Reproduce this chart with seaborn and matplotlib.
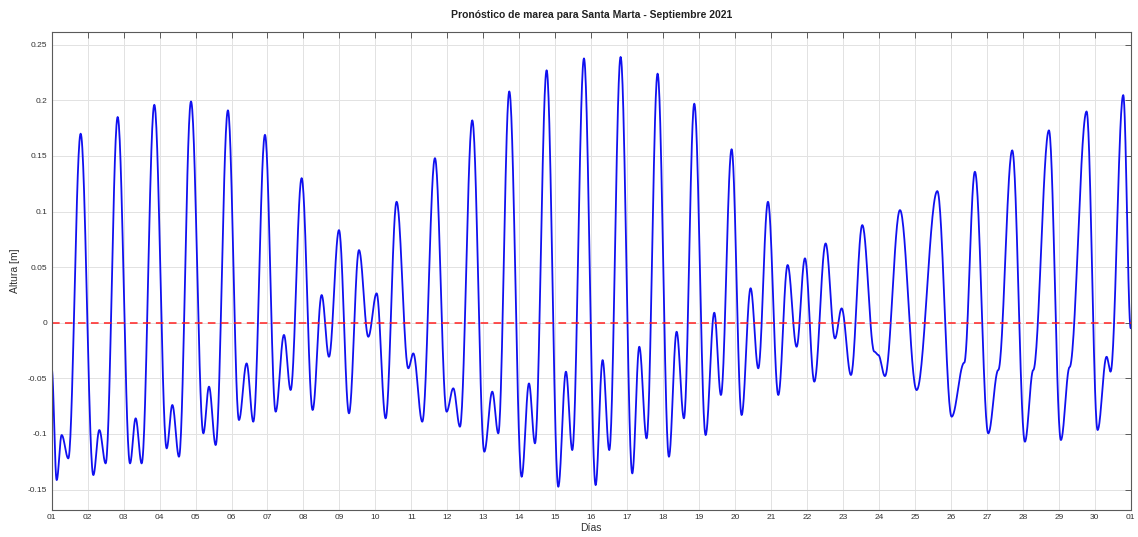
import numpy as np
import pandas as pd
import matplotlib
matplotlib.use("Agg")
import matplotlib.pyplot as plt
import seaborn as sns

# ---- Data (high/low water times in days of Sept 2021, height in m) ----
extremum_day = [
    1.000, 1.139, 1.278, 1.463, 1.806, 2.158, 2.325, 2.501, 2.835, 3.178,
    3.335, 3.502, 3.854, 4.197, 4.355, 4.540, 4.874, 5.217, 5.374, 5.560,
    5.900, 6.207, 6.420, 6.606, 6.930, 7.227, 7.458, 7.644, 7.950, 8.255,
    8.506, 8.710, 8.988, 9.266, 9.544, 9.803, 10.035, 10.285, 10.590, 10.915,
    11.054, 11.304, 11.656, 11.980, 12.166, 12.351, 12.694, 13.028, 13.250, 13.417,
    13.723, 14.066, 14.270, 14.437, 14.761, 15.085, 15.298, 15.474, 15.799, 16.123,
    16.317, 16.503, 16.818, 17.142, 17.337, 17.540, 17.846, 18.161, 18.375, 18.578,
    18.866, 19.181, 19.422, 19.607, 19.904, 20.182, 20.432, 20.645, 20.915, 21.202,
    21.461, 21.711, 21.943, 22.203, 22.518, 22.777, 22.963, 23.222, 23.537, 23.871,
    23.982, 24.167, 24.585, 25.048, 25.623, 26.021, 26.371, 26.668, 27.039, 27.317,
    27.706, 28.058, 28.290, 28.726, 29.059, 29.300, 29.773, 30.079, 30.329, 30.440,
    30.792, 31.000,
]
extremum_height = [
    -0.041, -0.1415, -0.101, -0.122, 0.170, -0.137, -0.0965, -0.1265, 0.185, -0.1265,
    -0.086, -0.1265, 0.196, -0.113, -0.074, -0.1205, 0.199, -0.0995, -0.0575, -0.110,
    0.191, -0.0875, -0.0366, -0.089, 0.169, -0.080, -0.011, -0.0605, 0.130, -0.0785,
    0.0249, -0.0306, 0.0833, -0.0815, 0.0653, -0.0126, 0.0264, -0.086, 0.1088, -0.041,
    -0.0276, -0.089, 0.148, -0.080, -0.059, -0.0935, 0.182, -0.116, -0.062, -0.0995,
    0.208, -0.1385, -0.0546, -0.1085, 0.227, -0.1475, -0.044, -0.1145, 0.2377, -0.146,
    -0.0336, -0.1145, 0.239, -0.1355, -0.0216, -0.104, 0.224, -0.1205, -0.0081, -0.086,
    0.197, -0.101, 0.009, -0.065, 0.156, -0.083, 0.031, -0.041, 0.1088, -0.065,
    0.0519, -0.0216, 0.0579, -0.053, 0.0713, -0.0141, 0.0129, -0.047, 0.0878, -0.026,
    -0.029, -0.048, 0.1013, -0.0606, 0.1184, -0.0845, -0.036, 0.1358, -0.0995, -0.0426,
    0.155, -0.107, -0.0426, 0.173, -0.1055, -0.040, 0.190, -0.0965, -0.0306, -0.044,
    0.2047, -0.005,
]
day_ticks = list(range(1, 32))
day_tick_labels = [f"{d:02d}" for d in range(1, 31)] + ["01"]
height_ticks = [-0.15, -0.1, -0.05, 0, 0.05, 0.1, 0.15, 0.2, 0.25]
height_tick_labels = ["-0.15", "-0.1", "-0.05", "0", "0.05", "0.1", "0.15", "0.2", "0.25"]
mean_level = 0.0
title_text = "Pronóstico de marea para Santa Marta - Septiembre 2021"
xlabel_text = "Días"
ylabel_text = "Altura [m]"

# ---- Tide curve through the high/low waters (half-cosine between turning points) ----
xs, ys = [], []
for i in range(len(extremum_day) - 1):
    t0, t1 = extremum_day[i], extremum_day[i + 1]
    h0, h1 = extremum_height[i], extremum_height[i + 1]
    s = np.linspace(0, 1, 30, endpoint=False)
    xs.append(t0 + (t1 - t0) * s)
    ys.append(h0 + (h1 - h0) * (1 - np.cos(np.pi * s)) / 2)
xs.append([extremum_day[-1]])
ys.append([extremum_height[-1]])
df = pd.DataFrame({"dia": np.concatenate(xs), "altura": np.concatenate(ys)})

sns.set_style("whitegrid")
plt.rcParams["font.family"] = ["Liberation Sans", "DejaVu Sans"]

fig = plt.figure(figsize=(11.38, 5.37), dpi=100)
ax = fig.add_axes([0.0454, 0.0503, 0.9936 - 0.0454, 0.9399 - 0.0503])
ax.set_facecolor("white")

sns.lineplot(data=df, x="dia", y="altura", ax=ax, color="#1010f0", linewidth=1.3,
             sort=False, estimator=None)
ax.axhline(mean_level, color="#ff2020", linestyle=(0, (5, 3.5)), linewidth=1.1)

ax.set_xlim(1, 31)
ax.set_ylim(-0.1684, 0.2612)
ax.set_xticks(day_ticks)
ax.set_xticklabels(day_tick_labels)
ax.set_yticks(height_ticks)
ax.set_yticklabels(height_tick_labels)

ax.grid(True, color="#e2e2e2", linewidth=0.7)
for sp in ax.spines.values():
    sp.set_visible(True)
    sp.set_color("#5a5a5a")
    sp.set_linewidth(0.8)
ax.tick_params(direction="in", length=4, width=0.7, color="#5a5a5a",
               top=True, right=True, labelsize=6, labelcolor="#333333", pad=3)

ax.set_title(title_text, fontsize=7.5, fontweight="bold", color="#222222", pad=10)
ax.set_xlabel(xlabel_text, fontsize=7.5, color="#333333", labelpad=1)
ax.set_ylabel(ylabel_text, fontsize=7.5, color="#333333", labelpad=6)

fig.savefig("out.png", dpi=100, facecolor="white")
